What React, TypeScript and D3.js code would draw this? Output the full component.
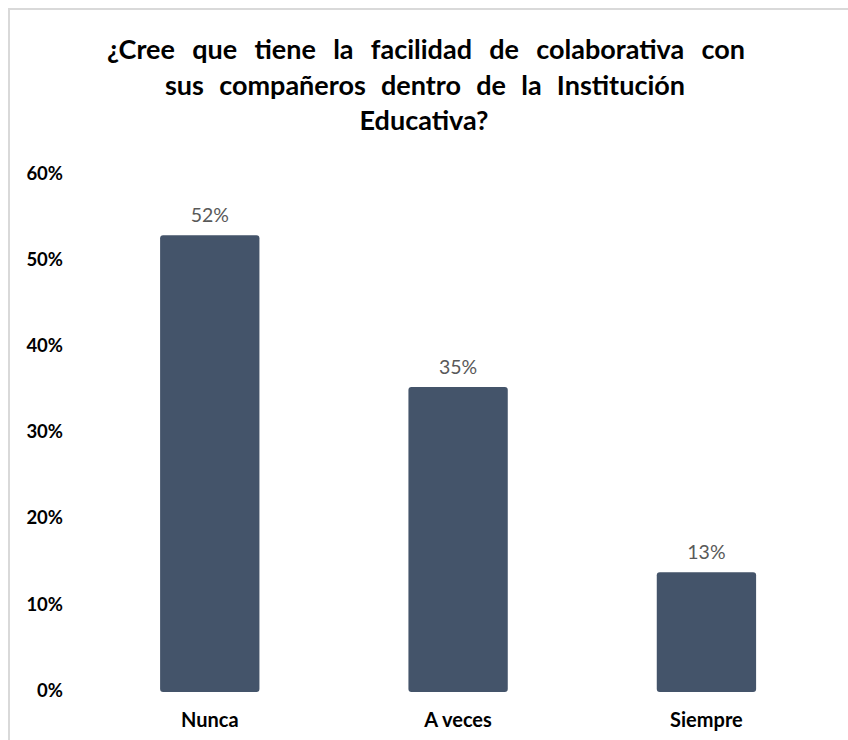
import React, { useMemo } from "react";
import * as d3 from "d3";

const titleLines = [
  "¿Cree que tiene la facilidad de colaborativa con",
  "sus compañeros dentro de la Institución",
  "Educativa?",
];
const categories = ["Nunca", "A veces", "Siempre"];
const values = [0.53, 0.354, 0.139];
const valueLabels = ["52%", "35%", "13%"];
const yTicks = [0, 0.1, 0.2, 0.3, 0.4, 0.5, 0.6];

const W = 848;
const H = 740;
const FONT = "Lato, 'Open Sans', sans-serif";
const TITLE_SIZE = 27;

export default function App() {
  const x = d3
    .scaleBand<string>()
    .domain(categories)
    .range([85.6, 830.6])
    .paddingInner(0.6)
    .paddingOuter(0.3);
  const y = d3.scaleLinear().domain([0, 0.6]).range([692, 175]);
  const fmt = d3.format(".0%");

  const titleY = [52, 88, 123];
  const titleJust = [
    { x: 107, w: 638 },
    { x: 165, w: 520 },
    null,
  ];

  const spacings = useMemo(() => {
    const c = document.createElement("canvas").getContext("2d");
    return titleLines.map((t, i) => {
      const j = titleJust[i];
      if (!j || !c) return 0;
      c.font = `bold ${TITLE_SIZE}px Lato`;
      const natural = c.measureText(t).width;
      const gaps = t.split(" ").length - 1;
      return Math.max(0, (j.w - natural) / gaps);
    });
  }, []);

  return (
    <svg
      width={W}
      height={H}
      style={{ position: "absolute", left: 0, top: 0, background: "#fff" }}
      fontFamily={FONT}
    >
      <rect x={9} y={9} width={W + 20} height={H + 20} fill="#fff" stroke="#d9d9d9" strokeWidth={2} />
      {titleLines.map((t, i) => {
        const j = titleJust[i];
        return (
          <text
            key={i}
            x={j ? j.x : 424}
            y={titleY[i]}
            textAnchor={j ? "start" : "middle"}
            dominantBaseline="middle"
            fontSize={TITLE_SIZE}
            fontWeight="bold"
            fill="#000"
            style={{ wordSpacing: `${spacings[i]}px` }}
          >
            {t}
          </text>
        );
      })}
      {yTicks.map((t) => (
        <text
          key={t}
          x={63}
          y={y(t)}
          textAnchor="end"
          dominantBaseline="middle"
          fontSize={18.5}
          fontWeight="bold"
          fill="#000"
        >
          {fmt(t)}
        </text>
      ))}
      {categories.map((c, i) => {
        const bx = x(c)!;
        const bw = x.bandwidth();
        return (
          <g key={c}>
            <rect
              x={bx}
              y={y(values[i])}
              width={bw}
              height={y(0) - y(values[i])}
              rx={3}
              fill="#44546a"
            />
            <text
              x={bx + bw / 2}
              y={y(values[i]) - 18}
              textAnchor="middle"
              dominantBaseline="middle"
              fontSize={19.5}
              fill="#595959"
            >
              {valueLabels[i]}
            </text>
            <text
              x={bx + bw / 2}
              y={722}
              textAnchor="middle"
              dominantBaseline="middle"
              fontSize={20}
              fontWeight="bold"
              fill="#000"
            >
              {c}
            </text>
          </g>
        );
      })}
    </svg>
  );
}
